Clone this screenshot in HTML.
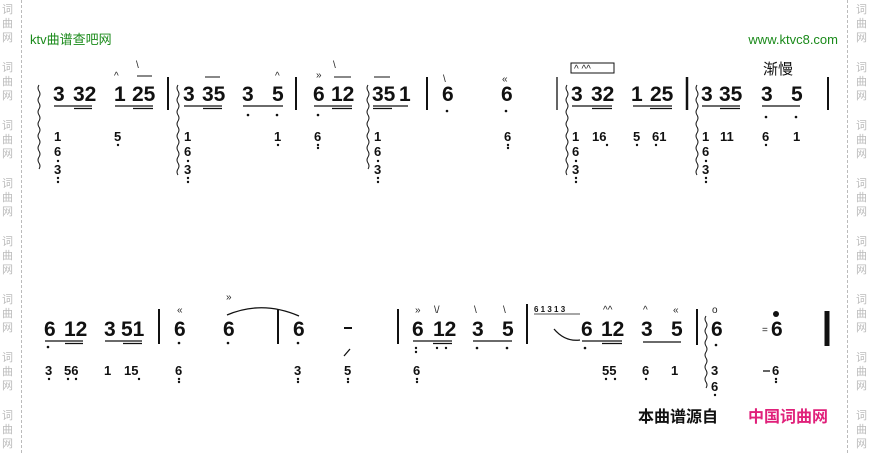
<!DOCTYPE html>
<html><head><meta charset="utf-8"><style>
html,body{margin:0;padding:0;background:#fff;}
svg{display:block;}
.t{font-family:"Liberation Sans",sans-serif;font-weight:bold;font-size:21px;fill:#111;}
.l{font-family:"Liberation Sans",sans-serif;font-weight:bold;font-size:13px;fill:#111;}
.m{font-family:"Liberation Sans",sans-serif;font-size:10px;fill:#222;}
.w{font-family:"Liberation Sans","Noto Sans CJK SC",sans-serif;font-size:11px;fill:#bbb;}
</style></head><body>
<svg width="869" height="454" viewBox="0 0 869 454" xmlns="http://www.w3.org/2000/svg">
<rect width="869" height="454" fill="#fff"/>
<line x1="21.5" y1="0" x2="21.5" y2="454" stroke="#bbb" stroke-dasharray="3,2"/>
<line x1="847.5" y1="0" x2="847.5" y2="454" stroke="#bbb" stroke-dasharray="3,2"/>
<g class="w">
<text x="2" y="13">词</text><text x="2" y="27">曲</text><text x="2" y="41">网</text>
<text x="2" y="71">词</text><text x="2" y="85">曲</text><text x="2" y="99">网</text>
<text x="2" y="129">词</text><text x="2" y="143">曲</text><text x="2" y="157">网</text>
<text x="2" y="187">词</text><text x="2" y="201">曲</text><text x="2" y="215">网</text>
<text x="2" y="245">词</text><text x="2" y="259">曲</text><text x="2" y="273">网</text>
<text x="2" y="303">词</text><text x="2" y="317">曲</text><text x="2" y="331">网</text>
<text x="2" y="361">词</text><text x="2" y="375">曲</text><text x="2" y="389">网</text>
<text x="2" y="419">词</text><text x="2" y="433">曲</text><text x="2" y="447">网</text>
<text x="856" y="13">词</text><text x="856" y="27">曲</text><text x="856" y="41">网</text>
<text x="856" y="71">词</text><text x="856" y="85">曲</text><text x="856" y="99">网</text>
<text x="856" y="129">词</text><text x="856" y="143">曲</text><text x="856" y="157">网</text>
<text x="856" y="187">词</text><text x="856" y="201">曲</text><text x="856" y="215">网</text>
<text x="856" y="245">词</text><text x="856" y="259">曲</text><text x="856" y="273">网</text>
<text x="856" y="303">词</text><text x="856" y="317">曲</text><text x="856" y="331">网</text>
<text x="856" y="361">词</text><text x="856" y="375">曲</text><text x="856" y="389">网</text>
<text x="856" y="419">词</text><text x="856" y="433">曲</text><text x="856" y="447">网</text>
</g>
<text x="30" y="44" style="font-family:'Liberation Sans','Noto Sans CJK SC',sans-serif;font-size:13px;fill:#1a8a1a">ktv曲谱查吧网</text>
<text x="838" y="44" text-anchor="end" style="font-family:'Liberation Sans',sans-serif;font-size:13px;fill:#1a8a1a">www.ktvc8.com</text>

<!-- ROW 1 top -->
<g class="t">
<text x="53" y="101">3</text><text x="73" y="101">32</text><text x="114" y="101">1</text><text x="132" y="101">25</text>
<text x="183" y="101">3</text><text x="202" y="101">35</text><text x="242" y="101">3</text><text x="272" y="101">5</text>
<text x="313" y="101">6</text><text x="331" y="101">12</text><text x="372" y="101">35</text><text x="399" y="101">1</text>
<text x="442" y="101">6</text><text x="501" y="101">6</text>
<text x="571" y="101">3</text><text x="591" y="101">32</text><text x="631" y="101">1</text><text x="650" y="101">25</text>
<text x="701" y="101">3</text><text x="719" y="101">35</text><text x="761" y="101">3</text><text x="791" y="101">5</text>
</g>
<text x="763" y="74" style="font-family:'Noto Sans CJK SC',sans-serif;font-size:15px;fill:#111">渐慢</text>
<g stroke="#111" stroke-width="1.3">
<line x1="54" y1="106" x2="92" y2="106"/><line x1="74" y1="108.5" x2="92" y2="108.5"/>
<line x1="115" y1="106" x2="153" y2="106"/><line x1="133" y1="108.5" x2="153" y2="108.5"/>
<line x1="184" y1="106" x2="222" y2="106"/><line x1="203" y1="108.5" x2="222" y2="108.5"/>
<line x1="243" y1="106" x2="283" y2="106"/>
<line x1="314" y1="106" x2="352" y2="106"/><line x1="332" y1="108.5" x2="352" y2="108.5"/>
<line x1="373" y1="106" x2="408" y2="106"/><line x1="373" y1="108.5" x2="392" y2="108.5"/>
<line x1="572" y1="106" x2="612" y2="106"/><line x1="592" y1="108.5" x2="612" y2="108.5"/>
<line x1="633" y1="106" x2="672" y2="106"/><line x1="650" y1="108.5" x2="672" y2="108.5"/>
<line x1="702" y1="106" x2="740" y2="106"/><line x1="720" y1="108.5" x2="740" y2="108.5"/>
<line x1="762" y1="106" x2="800" y2="106"/>
</g>
<g stroke="#111" stroke-width="2">
<line x1="168" y1="77" x2="168" y2="110"/><line x1="296" y1="77" x2="296" y2="110"/><line x1="427" y1="77" x2="427" y2="110"/>
<line x1="557" y1="77" x2="557" y2="110" stroke-width="1.3"/><line x1="687" y1="77" x2="687" y2="110" stroke-width="2.5"/><line x1="828" y1="77" x2="828" y2="110"/>
</g>
<g fill="#111">
<circle cx="248" cy="115" r="1.3"/><circle cx="277" cy="115" r="1.3"/><circle cx="318" cy="115" r="1.3"/>
<circle cx="447" cy="111" r="1.3"/><circle cx="506" cy="111" r="1.3"/>
<circle cx="766" cy="117" r="1.3"/><circle cx="796" cy="117" r="1.3"/>
</g>
<g class="m">
<text x="114" y="79">^</text><text x="275" y="79">^</text><text x="316" y="78">»</text><text x="443" y="82">\</text><text x="502" y="82">«</text>
<text x="136" y="68">\</text><text x="333" y="68">\</text>
</g>
<g stroke="#111" stroke-width="1">
<line x1="137" y1="76" x2="152" y2="76"/><line x1="205" y1="77" x2="220" y2="77"/><line x1="334" y1="77" x2="351" y2="77"/><line x1="374" y1="77" x2="390" y2="77"/>
<rect x="571" y="63" width="43" height="10" fill="none"/>
</g>
<text x="574" y="72" class="m">^ ^^</text>

<!-- ROW 1 lower -->
<g class="l">
<text x="54" y="141">1</text><text x="54" y="156">6</text><text x="54" y="174">3</text>
<text x="114" y="141">5</text>
<text x="184" y="141">1</text><text x="184" y="156">6</text><text x="184" y="174">3</text>
<text x="274" y="141">1</text><text x="314" y="141">6</text>
<text x="374" y="141">1</text><text x="374" y="156">6</text><text x="374" y="174">3</text>
<text x="504" y="141">6</text>
<text x="572" y="141">1</text><text x="572" y="156">6</text><text x="572" y="174">3</text>
<text x="592" y="141">16</text><text x="633" y="141">5</text><text x="652" y="141">61</text>
<text x="702" y="141">1</text><text x="702" y="156">6</text><text x="702" y="174">3</text>
<text x="720" y="141">11</text><text x="762" y="141">6</text><text x="793" y="141">1</text>
</g>
<g fill="#111">
<circle cx="58" cy="161" r="1.2"/><circle cx="58" cy="178" r="1.2"/><circle cx="58" cy="182" r="1.2"/>
<circle cx="188" cy="161" r="1.2"/><circle cx="188" cy="178" r="1.2"/><circle cx="188" cy="182" r="1.2"/>
<circle cx="378" cy="161" r="1.2"/><circle cx="378" cy="178" r="1.2"/><circle cx="378" cy="182" r="1.2"/>
<circle cx="576" cy="161" r="1.2"/><circle cx="576" cy="178" r="1.2"/><circle cx="576" cy="182" r="1.2"/>
<circle cx="706" cy="161" r="1.2"/><circle cx="706" cy="178" r="1.2"/><circle cx="706" cy="182" r="1.2"/>
<circle cx="118" cy="145" r="1.2"/><circle cx="278" cy="145" r="1.2"/><circle cx="318" cy="145" r="1.2"/><circle cx="318" cy="148" r="1.2"/>
<circle cx="508" cy="145" r="1.2"/><circle cx="508" cy="148" r="1.2"/><circle cx="607" cy="145" r="1.2"/><circle cx="637" cy="145" r="1.2"/><circle cx="656" cy="145" r="1.2"/><circle cx="766" cy="145" r="1.2"/>
</g>
<g fill="none" stroke="#111" stroke-width="1">
<path d="M39 85 q-2 3 0 6 q2 3 0 6 q-2 3 0 6 q2 3 0 6 q-2 3 0 6 q2 3 0 6 q-2 3 0 6 q2 3 0 6 q-2 3 0 6 q2 3 0 6 q-2 3 0 6 q2 3 0 6 q-2 3 0 6 q2 3 0 6"/>
<path d="M178 85 q-2 3 0 6 q2 3 0 6 q-2 3 0 6 q2 3 0 6 q-2 3 0 6 q2 3 0 6 q-2 3 0 6 q2 3 0 6 q-2 3 0 6 q2 3 0 6 q-2 3 0 6 q2 3 0 6 q-2 3 0 6 q2 3 0 6 q-2 3 0 6"/>
<path d="M368 85 q-2 3 0 6 q2 3 0 6 q-2 3 0 6 q2 3 0 6 q-2 3 0 6 q2 3 0 6 q-2 3 0 6 q2 3 0 6 q-2 3 0 6 q2 3 0 6 q-2 3 0 6 q2 3 0 6 q-2 3 0 6 q2 3 0 6"/>
<path d="M567 85 q-2 3 0 6 q2 3 0 6 q-2 3 0 6 q2 3 0 6 q-2 3 0 6 q2 3 0 6 q-2 3 0 6 q2 3 0 6 q-2 3 0 6 q2 3 0 6 q-2 3 0 6 q2 3 0 6 q-2 3 0 6 q2 3 0 6 q-2 3 0 6"/>
<path d="M697 85 q-2 3 0 6 q2 3 0 6 q-2 3 0 6 q2 3 0 6 q-2 3 0 6 q2 3 0 6 q-2 3 0 6 q2 3 0 6 q-2 3 0 6 q2 3 0 6 q-2 3 0 6 q2 3 0 6 q-2 3 0 6 q2 3 0 6 q-2 3 0 6"/>
</g>

<!-- ROW 2 top -->
<g class="t">
<text x="44" y="336">6</text><text x="64" y="336">12</text><text x="104" y="336">3</text><text x="121" y="336">51</text>
<text x="174" y="336">6</text><text x="223" y="336">6</text><text x="293" y="336">6</text>
<text x="412" y="336">6</text><text x="433" y="336">12</text><text x="472" y="336">3</text><text x="502" y="336">5</text>
<text x="581" y="336">6</text><text x="601" y="336">12</text><text x="641" y="336">3</text><text x="671" y="336">5</text>
<text x="711" y="336">6</text><text x="771" y="336">6</text>
</g>
<line x1="344" y1="328" x2="352" y2="328" stroke="#111" stroke-width="2"/>
<text x="534" y="312" style="font-family:'Liberation Sans',sans-serif;font-weight:bold;font-size:8px;fill:#111">6 1 3 1 3</text>
<g stroke="#111" stroke-width="1.3">
<line x1="45" y1="341" x2="83" y2="341"/><line x1="65" y1="343.5" x2="83" y2="343.5"/>
<line x1="105" y1="341" x2="142" y2="341"/><line x1="123" y1="343.5" x2="142" y2="343.5"/>
<line x1="413" y1="341" x2="452" y2="341"/><line x1="433" y1="343.5" x2="452" y2="343.5"/>
<line x1="473" y1="341" x2="512" y2="341"/>
<line x1="582" y1="341" x2="622" y2="341"/><line x1="602" y1="343.5" x2="622" y2="343.5"/>
<line x1="643" y1="342" x2="681" y2="342"/>
<line x1="534" y1="314" x2="580" y2="314" stroke-width="0.8"/>
</g>
<g stroke="#111" stroke-width="2">
<line x1="159" y1="309" x2="159" y2="344"/><line x1="278" y1="309" x2="278" y2="344"/><line x1="398" y1="309" x2="398" y2="344"/>
<line x1="527" y1="304" x2="527" y2="344"/><line x1="697" y1="309" x2="697" y2="345"/>
<line x1="827" y1="311" x2="827" y2="346" stroke-width="5"/>
</g>
<g fill="none" stroke="#111" stroke-width="1.3">
<path d="M227 315 Q262 300 299 316"/>
<path d="M554 329 Q565 342 580 340"/>
<line x1="344" y1="356" x2="350" y2="349"/>
</g>
<g fill="#111">
<circle cx="48" cy="347" r="1.3"/><circle cx="179" cy="343" r="1.3"/><circle cx="228" cy="343" r="1.3"/><circle cx="298" cy="343" r="1.3"/>
<circle cx="416" cy="348" r="1.2"/><circle cx="416" cy="352" r="1.2"/><circle cx="437" cy="348" r="1.2"/><circle cx="446" cy="348" r="1.2"/>
<circle cx="477" cy="348" r="1.3"/><circle cx="507" cy="348" r="1.3"/><circle cx="585" cy="348" r="1.3"/><circle cx="716" cy="345" r="1.3"/>
<circle cx="776" cy="314" r="3"/>
</g>
<g class="m">
<text x="177" y="313">«</text><text x="226" y="300">»</text><text x="415" y="313">»</text><text x="434" y="313">\/</text><text x="474" y="313">\</text><text x="503" y="313">\</text>
<text x="603" y="313">^^</text><text x="643" y="313">^</text><text x="673" y="313">«</text><text x="712" y="313">o</text><text x="762" y="333">=</text>
</g>

<!-- ROW 2 lower -->
<g class="l">
<text x="45" y="375">3</text><text x="64" y="375">56</text><text x="104" y="375">1</text><text x="124" y="375">15</text>
<text x="175" y="375">6</text><text x="294" y="375">3</text><text x="344" y="375">5</text><text x="413" y="375">6</text>
<text x="602" y="375">55</text><text x="642" y="375">6</text><text x="671" y="375">1</text>
<text x="711" y="375">3</text><text x="711" y="391">6</text><text x="772" y="375">6</text>
</g>
<line x1="763" y1="371" x2="770" y2="371" stroke="#111" stroke-width="1.3"/>
<g fill="#111">
<circle cx="49" cy="379" r="1.2"/><circle cx="68" cy="379" r="1.2"/><circle cx="76" cy="379" r="1.2"/><circle cx="139" cy="379" r="1.2"/>
<circle cx="179" cy="379" r="1.2"/><circle cx="179" cy="382" r="1.2"/><circle cx="298" cy="379" r="1.2"/><circle cx="298" cy="382" r="1.2"/>
<circle cx="348" cy="379" r="1.2"/><circle cx="348" cy="382" r="1.2"/><circle cx="417" cy="379" r="1.2"/><circle cx="417" cy="382" r="1.2"/>
<circle cx="606" cy="379" r="1.2"/><circle cx="615" cy="379" r="1.2"/><circle cx="646" cy="379" r="1.2"/>
<circle cx="715" cy="395" r="1.2"/><circle cx="776" cy="379" r="1.2"/><circle cx="776" cy="382" r="1.2"/>
</g>
<path d="M706 316 q-2 3 0 6 q2 3 0 6 q-2 3 0 6 q2 3 0 6 q-2 3 0 6 q2 3 0 6 q-2 3 0 6 q2 3 0 6 q-2 3 0 6 q2 3 0 6 q-2 3 0 6 q2 3 0 6" fill="none" stroke="#111"/>

<text x="638" y="422" style="font-family:'Liberation Sans','Noto Sans CJK SC',sans-serif;font-weight:bold;font-size:16px;fill:#111">本曲谱源自</text>
<text x="748" y="422" style="font-family:'Liberation Sans','Noto Sans CJK SC',sans-serif;font-weight:bold;font-size:16px;fill:#e0207a">中国词曲网</text>
</svg>
</body></html>
